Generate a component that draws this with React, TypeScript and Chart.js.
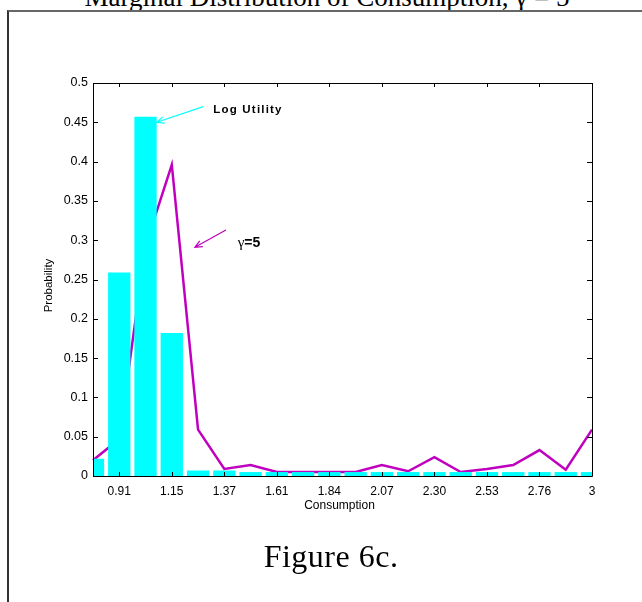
import React, { useEffect, useRef } from "react";
import { Chart, registerables } from "chart.js";

Chart.register(...registerables);

// Consumption grid (x categories)
const CONSUMPTION = [
  "0.79", "0.91", "1.03", "1.15", "1.26", "1.37", "1.49", "1.61", "1.73", "1.84",
  "1.96", "2.07", "2.19", "2.30", "2.42", "2.53", "2.65", "2.76", "2.88", "3",
];
// Log utility probabilities (bars)
const LOG_UTILITY = [
  0.022, 0.259, 0.457, 0.182, 0.007, 0.007, 0.005, 0.005, 0.005, 0.005,
  0.005, 0.005, 0.005, 0.005, 0.005, 0.005, 0.005, 0.005, 0.005, 0.005,
];
// gamma = 5 probabilities (line)
const GAMMA5 = [
  0.02, 0.047, 0.293, 0.396, 0.059, 0.009, 0.014, 0.005, 0.005, 0.005,
  0.005, 0.014, 0.006, 0.024, 0.005, 0.009, 0.014, 0.033, 0.008, 0.059,
];
const Y_MIN = 0;
const Y_MAX = 0.5;
const Y_STEP = 0.05;

const BAR_COLOR = "#00FFFF";
const LINE_COLOR = "#BF00BF";

function arrow(ctx: CanvasRenderingContext2D, x1: number, y1: number, x2: number, y2: number, color: string) {
  const ang = Math.atan2(y2 - y1, x2 - x1);
  const len = 8;
  const spread = 0.42;
  ctx.save();
  ctx.strokeStyle = color;
  ctx.lineWidth = 1.2;
  ctx.beginPath();
  ctx.moveTo(x1, y1);
  ctx.lineTo(x2, y2);
  ctx.moveTo(x2 - len * Math.cos(ang - spread), y2 - len * Math.sin(ang - spread));
  ctx.lineTo(x2, y2);
  ctx.lineTo(x2 - len * Math.cos(ang + spread), y2 - len * Math.sin(ang + spread));
  ctx.stroke();
  ctx.restore();
}

const framePlugin = {
  id: "matlabFrame",
  afterDraw(chart: any) {
    const { ctx, chartArea } = chart;
    const { left, right, top, bottom } = chartArea;
    const xs = chart.scales.x;
    const ys = chart.scales.y;
    ctx.save();
    ctx.strokeStyle = "#000";
    ctx.lineWidth = 1;
    ctx.beginPath();
    ctx.rect(Math.round(left) + 0.5, Math.round(top) + 0.5, Math.round(right - left), Math.round(bottom - top));
    ctx.stroke();
    ctx.beginPath();
    for (let i = 1; i < CONSUMPTION.length; i += 2) {
      const px = Math.round(xs.getPixelForValue(i)) + 0.5;
      ctx.moveTo(px, bottom);
      ctx.lineTo(px, bottom - 4);
      ctx.moveTo(px, top);
      ctx.lineTo(px, top + 4);
    }
    ys.ticks.forEach((t: any) => {
      const py = Math.round(ys.getPixelForValue(t.value)) + 0.5;
      ctx.moveTo(left, py);
      ctx.lineTo(left + 5, py);
      ctx.moveTo(right, py);
      ctx.lineTo(right - 5, py);
    });
    ctx.stroke();

    // axis titles
    ctx.fillStyle = "#000";
    ctx.font = "12px 'Liberation Sans', Arial, sans-serif";
    ctx.textAlign = "center";
    ctx.textBaseline = "middle";
    ctx.fillText("Consumption", (left + right) / 2 - 3, bottom + 30);
    ctx.save();
    ctx.translate(left - 44, (top + bottom) / 2 + 6);
    ctx.rotate(-Math.PI / 2);
    ctx.font = "11.5px 'Liberation Sans', Arial, sans-serif";
    ctx.fillText("Probability", 0, 0);
    ctx.restore();

    // annotations (in data coordinates)
    const X = (v: number) => xs.getPixelForValue(v);
    const Y = (v: number) => ys.getPixelForValue(v);
    arrow(ctx, X(4.2), Y(0.470), X(2.43), Y(0.450), BAR_COLOR);
    ctx.textAlign = "left";
    ctx.font = "bold 11.5px 'Liberation Sans', Arial, sans-serif";
    (ctx as any).letterSpacing = "1.2px";
    ctx.fillText("Log Utility", X(4.58), Y(0.4655));
    (ctx as any).letterSpacing = "0px";

    arrow(ctx, X(5.06), Y(0.313), X(3.88), Y(0.291), LINE_COLOR);
    ctx.font = "15px 'Liberation Serif', 'Times New Roman', serif";
    const gx = X(5.51);
    const gy = Y(0.296);
    ctx.fillText("\u03b3", gx, gy);
    const gw = ctx.measureText("\u03b3").width;
    ctx.font = "bold 14px 'Liberation Sans', Arial, sans-serif";
    ctx.fillText("=5", gx + gw, gy);
    ctx.restore();
  },
};

function ChartView() {
  const ref = useRef<HTMLCanvasElement>(null);
  useEffect(() => {
    if (!ref.current) return;
    const chart = new Chart(ref.current, {
      type: "bar",
      data: {
        labels: CONSUMPTION,
        datasets: [
          {
            type: "bar",
            label: "Log Utility",
            data: LOG_UTILITY,
            backgroundColor: BAR_COLOR,
            borderWidth: 0,
            categoryPercentage: 1,
            barPercentage: 0.85,
            order: 1,
          },
          {
            type: "line",
            label: "\u03b3=5",
            data: GAMMA5,
            borderColor: LINE_COLOR,
            borderWidth: 2.5,
            pointRadius: 0,
            tension: 0,
            fill: false,
            order: 2,
          } as any,
        ],
      },
      options: {
        responsive: false,
        animation: false,
        devicePixelRatio: 1,
        layout: { padding: { left: 33, right: 50, top: 83, bottom: 86 } },
        plugins: {
          legend: { display: false },
          tooltip: { enabled: false },
          title: { display: false },
        },
        scales: {
          x: {
            type: "category",
            offset: false,
            grid: { display: false, drawTicks: false },
            border: { display: false },
            ticks: {
              autoSkip: false,
              maxRotation: 0,
              padding: 8,
              color: "#000",
              font: { family: "'Liberation Sans', Arial, sans-serif", size: 12 },
              callback: (_v: any, i: number) => (i % 2 === 1 ? CONSUMPTION[i] : ""),
            },
            afterFit: (s: any) => {
              s.height = 40;
            },
          },
          y: {
            min: Y_MIN,
            max: Y_MAX,
            grid: { display: false, drawTicks: false },
            border: { display: false },
            ticks: {
              stepSize: Y_STEP,
              padding: 5,
              color: "#000",
              font: { family: "'Liberation Sans', Arial, sans-serif", size: 12.5 },
              callback: (v: any) => String(parseFloat(Number(v).toFixed(2))),
            },
            afterFit: (s: any) => {
              s.width = 60;
            },
          },
        },
      },
      plugins: [framePlugin],
    });
    return () => chart.destroy();
  }, []);
  return (
    <canvas
      ref={ref}
      width={642}
      height={602}
      style={{ position: "absolute", left: 0, top: 0, width: 642, height: 602, display: "block" }}
    />
  );
}

export default function App() {
  return (
    <div
      style={{
        position: "absolute",
        left: 0,
        top: 0,
        width: 642,
        height: 602,
        overflow: "hidden",
        background: "#fff",
      }}
    >
      <div
        style={{
          position: "absolute",
          left: 0,
          width: 654,
          top: -16,
          textAlign: "center",
          fontFamily: "'Liberation Serif', 'Times New Roman', serif",
          fontSize: 27,
          lineHeight: "27px",
          color: "#000",
          whiteSpace: "nowrap",
        }}
      >
        Marginal Distribution of Consumption, {"\u03b3"} = 5
      </div>
      <div
        style={{
          position: "absolute",
          left: 7,
          top: 10,
          width: 700,
          height: 700,
          borderTop: "2px solid #666",
          borderLeft: "2px solid #333",
        }}
      />
      <ChartView />
      <div
        style={{
          position: "absolute",
          left: 0,
          width: 662,
          top: 540,
          textAlign: "center",
          fontFamily: "'Liberation Serif', 'Times New Roman', serif",
          fontSize: 32,
          lineHeight: "32px",
          letterSpacing: "0.5px",
          color: "#000",
          whiteSpace: "nowrap",
        }}
      >
        Figure 6c.
      </div>
    </div>
  );
}
